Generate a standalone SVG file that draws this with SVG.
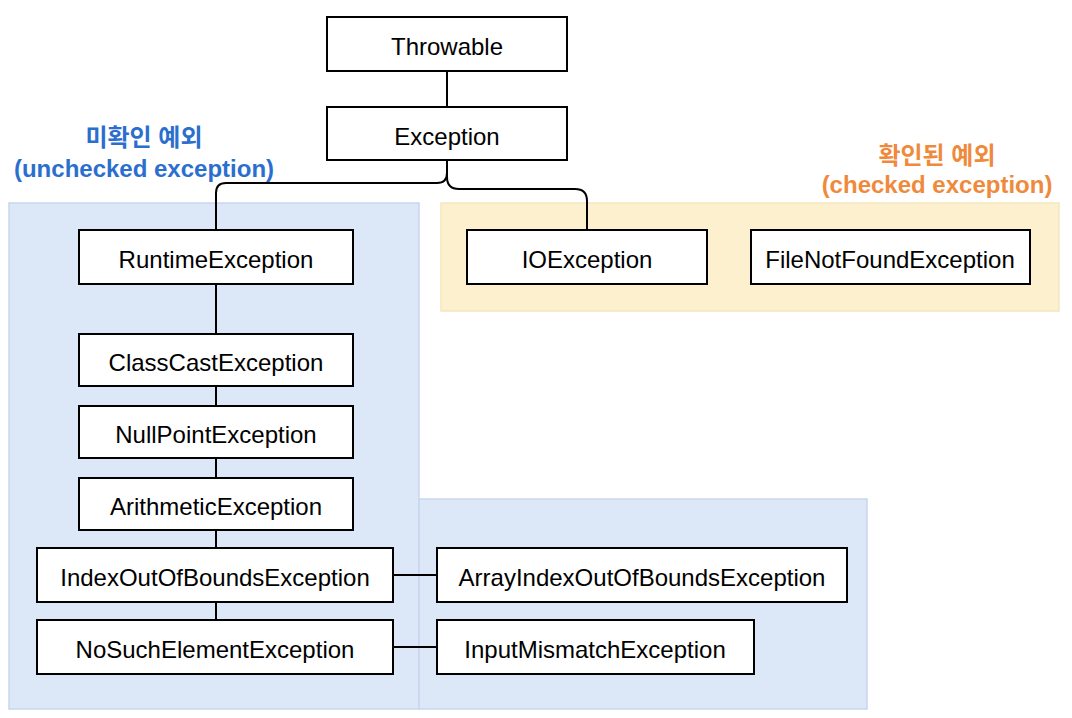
<svg xmlns="http://www.w3.org/2000/svg" width="1072" height="718" viewBox="0 0 1072 718">
  <style>
    .node rect { fill: #ffffff; stroke: #000000; stroke-width: 2; }
    .node text { font-family: "Liberation Sans", Arial, sans-serif; font-size: 24px; fill: #000000; text-anchor: middle; dominant-baseline: central; }
    .edge { fill: none; stroke: #000000; stroke-width: 2; }
    .region-blue { fill: #dce7f8; stroke: #c8d6ee; stroke-width: 1.5; }
    .region-yellow { fill: #fcf0cf; stroke: #f5e6bd; stroke-width: 1.5; }
    .title { font-family: "Liberation Sans", Arial, "Noto Sans CJK KR", sans-serif; font-size: 24px; font-weight: bold; text-anchor: middle; dominant-baseline: central; }
    .blue { fill: #2b6fce; }
    .orange { fill: #ef8a3c; }
  </style>

  <g id="regions">
    <rect class="region-blue" x="9" y="203" width="410" height="506"/>
    <rect class="region-blue" x="419" y="499" width="448" height="210"/>
    <rect class="region-yellow" x="441" y="203" width="618" height="108"/>
  </g>

  <g id="labels">
    <text class="title blue" x="144" y="137">미확인 예외</text>
    <text class="title blue" x="144" y="168">(unchecked exception)</text>
    <text class="title orange" x="937" y="155">확인된 예외</text>
    <text class="title orange" x="937" y="184">(checked exception)</text>
  </g>

  <g id="connectors">
    <path class="edge" d="M447,71 L447,107"/>
    <path class="edge" d="M447,160 L447,173 Q447,183 437,183 L226,183 Q216,183 216,193 L216,230"/>
    <path class="edge" d="M447,160 L447,177 Q447,189 459,189 L575,189 Q587,189 587,201 L587,230"/>
    <path class="edge" d="M216,284 L216,334"/>
    <path class="edge" d="M216,386 L216,406"/>
    <path class="edge" d="M216,458 L216,478"/>
    <path class="edge" d="M216,530 L216,548"/>
    <path class="edge" d="M216,602 L216,620"/>
    <path class="edge" d="M393,575 L437,575"/>
    <path class="edge" d="M393,647 L437,647"/>
  </g>

  <g id="node-throwable" class="node">
    <rect x="327" y="17" width="240" height="54"/>
    <text x="447" y="46">Throwable</text>
  </g>
  <g id="node-exception" class="node">
    <rect x="327" y="107" width="240" height="53"/>
    <text x="447" y="136">Exception</text>
  </g>
  <g id="node-runtime" class="node">
    <rect x="79" y="230" width="274" height="54"/>
    <text x="216" y="259">RuntimeException</text>
  </g>
  <g id="node-classcast" class="node">
    <rect x="79" y="334" width="274" height="52"/>
    <text x="216" y="362">ClassCastException</text>
  </g>
  <g id="node-nullpoint" class="node">
    <rect x="79" y="406" width="274" height="52"/>
    <text x="216" y="434">NullPointException</text>
  </g>
  <g id="node-arithmetic" class="node">
    <rect x="79" y="478" width="274" height="52"/>
    <text x="216" y="506">ArithmeticException</text>
  </g>
  <g id="node-indexoob" class="node">
    <rect x="37" y="548" width="356" height="54"/>
    <text x="215" y="577">IndexOutOfBoundsException</text>
  </g>
  <g id="node-nosuchelement" class="node">
    <rect x="37" y="620" width="356" height="54"/>
    <text x="215" y="649">NoSuchElementException</text>
  </g>
  <g id="node-arrayindexoob" class="node">
    <rect x="437" y="548" width="410" height="54"/>
    <text x="642" y="577">ArrayIndexOutOfBoundsException</text>
  </g>
  <g id="node-inputmismatch" class="node">
    <rect x="437" y="620" width="317" height="54"/>
    <text x="595" y="649">InputMismatchException</text>
  </g>
  <g id="node-ioexception" class="node">
    <rect x="467" y="230" width="240" height="54"/>
    <text x="587" y="259">IOException</text>
  </g>
  <g id="node-filenotfound" class="node">
    <rect x="751" y="230" width="279" height="54"/>
    <text x="890" y="259">FileNotFoundException</text>
  </g>
</svg>
